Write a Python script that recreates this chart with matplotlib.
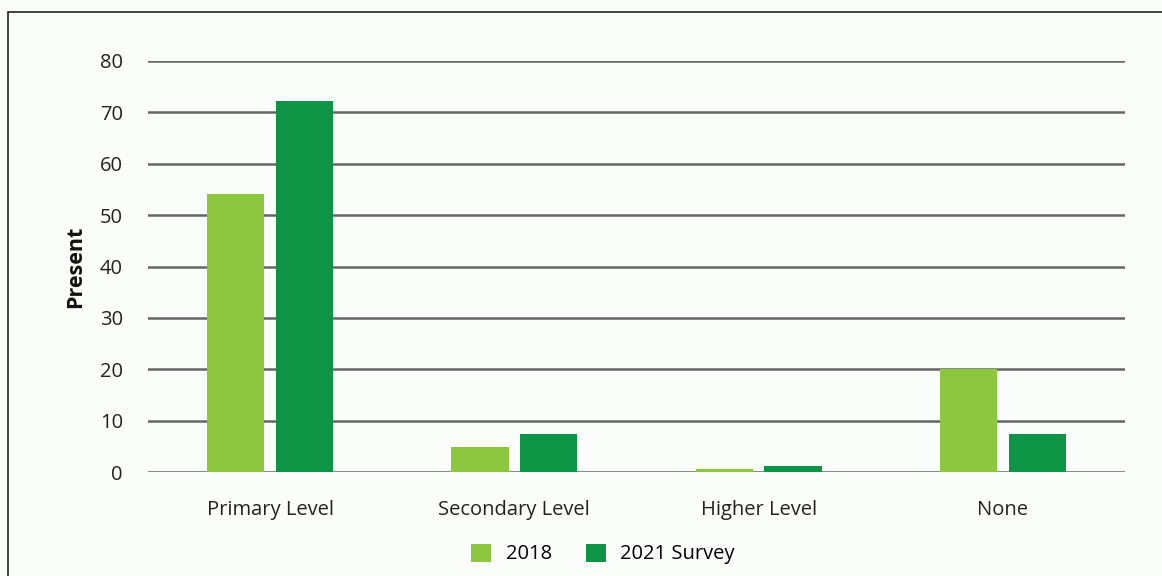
import numpy as np
import matplotlib
matplotlib.use("Agg")
import matplotlib.pyplot as plt
from matplotlib.patches import Rectangle

categories = ["Primary Level", "Secondary Level", "Higher Level", "None"]
series_names = ["2018", "2021 Survey"]
values_2018 = [54.2, 4.9, 0.6, 20.0]
values_2021 = [72.2, 7.4, 1.2, 7.4]
yticks = [0, 10, 20, 30, 40, 50, 60, 70, 80]

plt.rcParams["font.family"] = ["Open Sans", "DejaVu Sans"]

bg = "#fbfdfb"
fig = plt.figure(figsize=(11.62, 5.76), dpi=100, facecolor=bg)
ax = fig.add_axes([148 / 1162, 1 - 472 / 576, (1125 - 148) / 1162, (472 - 61) / 576])
ax.set_facecolor(bg)

x = np.arange(len(categories))
w = 0.234
off = 0.141
b1 = ax.bar(x - off, values_2018, w, color="#8dc63f", label=series_names[0], zorder=3)
b2 = ax.bar(x + off, values_2021, w, color="#0d9444", label=series_names[1], zorder=3)

ax.set_xlim(-0.5, 3.5)
ax.set_ylim(0, 80)
ax.set_yticks(yticks)
ax.yaxis.grid(True, color="#666666", linewidth=1.8, zorder=0)
ax.set_axisbelow(True)
for s in ax.spines.values():
    s.set_visible(False)
ax.tick_params(axis="both", length=0, labelsize=14.5, colors="#222222")
ax.tick_params(axis="y", pad=18)
ax.tick_params(axis="x", pad=20)
ax.set_xticks(x)
ax.set_xticklabels(categories)
ax.set_ylabel("Present", fontsize=15.5, fontweight="bold", labelpad=10, color="#111111")

leg = fig.legend(handles=[b1, b2], labels=series_names, loc="center",
                 bbox_to_anchor=(603 / 1162, 1 - 554 / 576), ncol=2, frameon=False,
                 fontsize=14.5, handlelength=1.0, handleheight=1.0, columnspacing=1.7,
                 handletextpad=0.7)

# outer frame
fig.patches.append(Rectangle((8 / 1162, -0.01), 1.0, 1 - 12 / 576 + 0.01,
                             transform=fig.transFigure, fill=False,
                             edgecolor="#222222", linewidth=1.2))

fig.savefig("out.png", dpi=100, facecolor=bg)
